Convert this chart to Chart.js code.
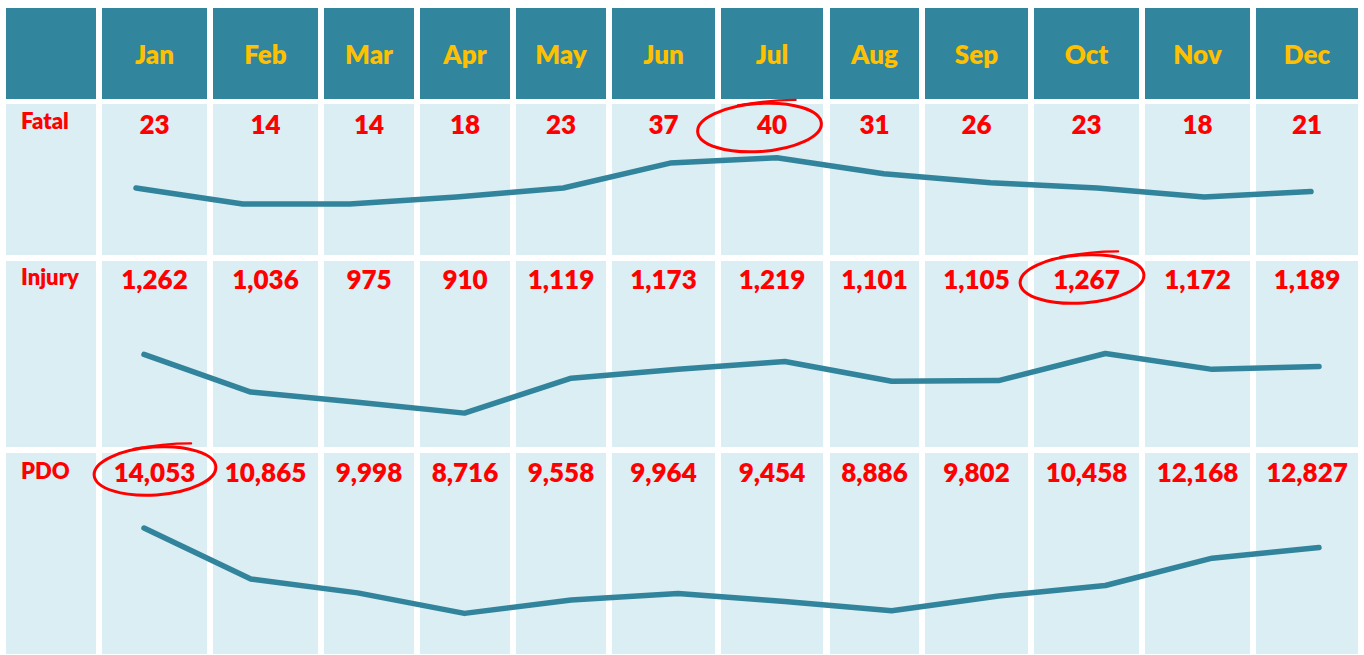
<!DOCTYPE html>
<html>
<head>
<meta charset="utf-8">
<script src="https://cdn.jsdelivr.net/npm/chart.js@4.4.1/dist/chart.umd.min.js"></script>
<style>
  html, body { margin: 0; padding: 0; background: #ffffff; }
  #wrap { position: relative; width: 1364px; height: 655px; overflow: hidden; font-family: Lato, "Open Sans", sans-serif; font-weight: 800; }
  .cell { position: absolute; }
  .hdr { background: #31859C; }
  .body { background: #DAEEF3; }
  .txt { position: absolute; white-space: nowrap; line-height: 30px; height: 30px; }
  .month { color: #FFC000; font-size: 26px; text-align: center; }
  .val { color: #FF0000; font-size: 26px; text-align: center; }
  .lab { color: #FF0000; font-size: 22px; }
  .spark { position: absolute; }
  svg { position: absolute; left: 0; top: 0; }
</style>
</head>
<body>
<div id="wrap"></div>
<script>
// ---- data ----
const months = ['Jan','Feb','Mar','Apr','May','Jun','Jul','Aug','Sep','Oct','Nov','Dec'];
const rowLabels = ['Fatal','Injury','PDO'];
const fatal  = [23, 14, 14, 18, 23, 37, 40, 31, 26, 23, 18, 21];
const injury = [1262, 1036, 975, 910, 1119, 1173, 1219, 1101, 1105, 1267, 1172, 1189];
const pdo    = [14053, 10865, 9998, 8716, 9558, 9964, 9454, 8886, 9802, 10458, 12168, 12827];

// ---- layout (positions only) ----
const colEdges = [[6,96],[102,207],[213,318],[324,414],[420,510],[516,606],[612,715],[721,823],[830,919],[925,1028],[1034,1139],[1145,1250],[1256,1358]];
const rowEdges = [[8,99],[104,255],[261,447],[453,654]];
const textCenters = [54, 124, 279, 472];
const labelCenters = [121, 277, 471];
const sparkCfg = [
  {data: fatal,  left: 116, width: 1215, min: -14.65, max: 70.2},
  {data: injury, left: 124, width: 1215, min: 707.1, max: 1820.9},
  {data: pdo,    left: 124, width: 1215, min: 6177.5, max: 18740}
];

const wrap = document.getElementById('wrap');
function el(cls, css, text) {
  const d = document.createElement('div');
  d.className = cls;
  Object.assign(d.style, css);
  if (text !== undefined) d.textContent = text;
  wrap.appendChild(d);
  return d;
}

// cells
rowEdges.forEach((r, ri) => {
  colEdges.forEach((c, ci) => {
    el('cell ' + (ri === 0 ? 'hdr' : 'body'), {left: c[0]+'px', top: r[0]+'px', width: (c[1]-c[0])+'px', height: (r[1]-r[0])+'px'});
  });
});

// header months
months.forEach((m, i) => {
  const c = colEdges[i+1];
  el('txt month', {left: c[0]+'px', width: (c[1]-c[0])+'px', top: (textCenters[0]-15)+'px'}, m);
});

// row labels and values
const series = [fatal, injury, pdo];
series.forEach((s, ri) => {
  el('txt lab', {left: '21px', top: (labelCenters[ri]-15)+'px'}, rowLabels[ri]);
  s.forEach((v, i) => {
    const c = colEdges[i+1];
    el('txt val', {left: (c[0]-10)+'px', width: (c[1]-c[0]+20)+'px', top: (textCenters[ri+1]-15)+'px'}, v.toLocaleString('en-US'));
  });
});

// sparklines
sparkCfg.forEach((cfg, ri) => {
  const r = rowEdges[ri+1];
  const holder = el('spark', {left: cfg.left+'px', top: r[0]+'px', width: cfg.width+'px', height: (r[1]-r[0])+'px'});
  const cv = document.createElement('canvas');
  cv.width = cfg.width; cv.height = r[1]-r[0];
  cv.style.width = cfg.width+'px'; cv.style.height = (r[1]-r[0])+'px';
  holder.appendChild(cv);
  new Chart(cv, {
    type: 'line',
    data: {
      labels: months,
      datasets: [{
        label: rowLabels[ri],
        data: cfg.data,
        borderColor: '#31849B',
        borderWidth: 5.5,
        pointRadius: 0,
        tension: 0,
        fill: false,
        borderCapStyle: 'round',
        borderJoinStyle: 'round',
        clip: false
      }]
    },
    options: {
      responsive: false,
      animation: false,
      devicePixelRatio: 1,
      layout: {padding: {left: 20, right: 20, top: 0, bottom: 0}},
      plugins: {legend: {display: false}, tooltip: {enabled: false}},
      scales: {
        x: {display: false, offset: false},
        y: {display: false, min: cfg.min, max: cfg.max}
      }
    }
  });
});

// hand-drawn red circles
const svgNS = 'http://www.w3.org/2000/svg';
const svg = document.createElementNS(svgNS, 'svg');
svg.setAttribute('width', '1364');
svg.setAttribute('height', '655');
wrap.appendChild(svg);
function circle(cx, cy, rx, ry, rot) {
  const g = document.createElementNS(svgNS, 'g');
  g.setAttribute('transform', `rotate(${rot} ${cx} ${cy})`);
  const e = document.createElementNS(svgNS, 'ellipse');
  e.setAttribute('cx', cx); e.setAttribute('cy', cy);
  e.setAttribute('rx', rx); e.setAttribute('ry', ry);
  e.setAttribute('fill', 'none'); e.setAttribute('stroke', '#FF0000'); e.setAttribute('stroke-width', '3');
  g.appendChild(e);
  const p = document.createElementNS(svgNS, 'path');
  p.setAttribute('d', `M ${cx-20} ${cy-ry+0.5} Q ${cx+10} ${cy-ry-3} ${cx+38} ${cy-ry-1}`);
  p.setAttribute('fill', 'none'); p.setAttribute('stroke', '#FF0000'); p.setAttribute('stroke-width', '2.2'); p.setAttribute('stroke-linecap', 'round');
  g.appendChild(p);
  svg.appendChild(g);
}
circle(759.5, 127.5, 62, 24, -4);
circle(1082, 279, 62, 24, -4);
circle(155, 471, 61, 24, -4);
</script>
</body>
</html>
